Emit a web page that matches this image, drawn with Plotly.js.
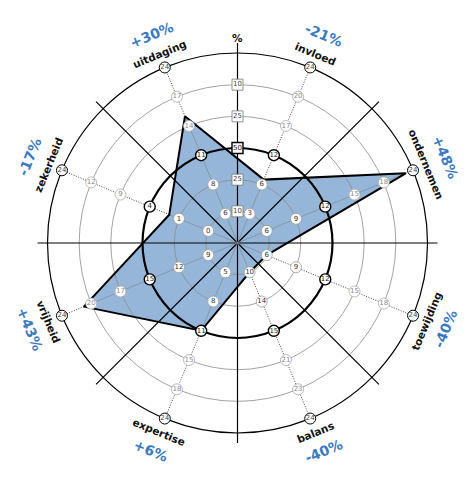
<!DOCTYPE html>
<html><head><meta charset="utf-8">
<script src="https://cdn.plot.ly/plotly-3.0.1.min.js"></script>
<style>html,body{margin:0;padding:0;background:#fff}</style>
</head><body><div id="chart" style="width:474px;height:489px"></div>
<script>
// ---- data ----
const categories = ['uitdaging','invloed','ondernemen','toewijding','balans','expertise','vrijheid','zekerheid'];
const scores = [15, 7, 22.5, 6, 10, 11, 21, 2];
const changes = ['+30%','-21%','+48%','-40%','-40%','+6%','+43%','-17%'];
const scaleUitdaging  = [6, 8, 11, 14, 17, 24];
const scaleInvloed    = [3, 6, 12, 17, 20, 24];
const scaleOndernemen = [6, 9, 12, 15, 18, 24];
const scaleToewijding = [6, 9, 12, 15, 18, 24];
const scaleBalans     = [10, 14, 15, 21, 23, 24];
const scaleExpertise  = [5, 8, 11, 15, 18, 24];
const scaleVrijheid   = [9, 12, 15, 17, 20, 24];
const scaleZekerheid  = [0, 1, 4, 9, 12, 24];
const percentLabels = ['10', '25', '50', '25', '10'];
const percentTitle = '%';

const scales = [scaleUitdaging, scaleInvloed, scaleOndernemen, scaleToewijding,
                scaleBalans, scaleExpertise, scaleVrijheid, scaleZekerheid];

// per-axis piecewise scale: value -> ring position (0..6)
function toRing(v, sc) {
  for (let k = 0; k < sc.length; k++) {
    const lo = k === 0 ? 0 : sc[k - 1], hi = sc[k];
    if (hi > lo && v <= hi) return k + (v - lo) / (hi - lo);
  }
  return sc.length;
}
const rings = scores.map((v, i) => toRing(v, scales[i]));

// ---- layout geometry ----
const W = 474, H = 489, CX = 237.5, CY = 243, R6 = 190;
function dom(R) {
  return { x: [(CX - R) / W, (CX + R) / W], y: [(H - CY - R) / H, (H - CY + R) / H] };
}
const hiddenRadial = (rng) => ({ range: rng, showgrid: false, showline: false, showticklabels: false, ticks: '' });
const catAngular = { type: 'category', categoryorder: 'array', categoryarray: categories,
  rotation: 112.5, direction: 'clockwise', showgrid: false, showline: false, showticklabels: false, ticks: '' };
const linAngular = { type: 'linear', rotation: 0, direction: 'counterclockwise',
  showgrid: false, showline: false, showticklabels: false, ticks: '' };
const transparent = 'rgba(0,0,0,0)';

const traces = [];
const closedR = rings.concat([rings[0]]);
const closedT = categories.concat([categories[0]]);

// A: fill
traces.push({ type: 'scatterpolar', subplot: 'polar', r: closedR, theta: closedT, mode: 'lines',
  fill: 'toself', fillcolor: '#95b6d8', line: { width: 0, color: transparent }, hoverinfo: 'skip' });
// B: grid rings (dummy trace)
traces.push({ type: 'scatterpolar', subplot: 'polar2', r: [0], theta: [0], mode: 'lines', hoverinfo: 'skip' });
// C: 45-degree black lines
traces.push({ type: 'scatterpolar', subplot: 'polar3', r: [0], theta: [0], mode: 'lines', hoverinfo: 'skip' });
// D: thick middle ring
traces.push({ type: 'scatterpolar', subplot: 'polar4', r: [0], theta: [0], mode: 'lines', hoverinfo: 'skip' });

// E: spokes, outline, markers
const sR = [], sT = [], dR = [], dT = [];
categories.forEach((c, i) => {
  sR.push(0, rings[i], null); sT.push(c, c, null);
  dR.push(rings[i], 6, null); dT.push(c, c, null);
});
traces.push({ type: 'scatterpolar', subplot: 'polar5', r: sR, theta: sT, mode: 'lines',
  line: { color: '#7d8a96', width: 0.7 }, hoverinfo: 'skip' });
traces.push({ type: 'scatterpolar', subplot: 'polar5', r: dR, theta: dT, mode: 'lines',
  line: { color: '#444', width: 1, dash: '1px,1.5px' }, hoverinfo: 'skip' });
traces.push({ type: 'scatterpolar', subplot: 'polar5', r: closedR, theta: closedT, mode: 'lines',
  line: { color: '#000', width: 2 }, hoverinfo: 'skip' });

// marker styles by ring group
const groups = [
  { rings: [1, 2], line: '#9a9a9a', lw: 0.8, tc: '#333' },
  { rings: [3],    line: '#000',    lw: 1.4, tc: '#222' },
  { rings: [4, 5], line: '#aaaaaa', lw: 0.8, tc: '#8a8a8a' },
  { rings: [6],    line: '#000',    lw: 1.0, tc: '#444' }
];
groups.forEach(g => {
  const r = [], t = [], txt = [];
  categories.forEach((c, i) => {
    g.rings.forEach(ring => { r.push(ring); t.push(c); txt.push(String(scales[i][ring - 1])); });
  });
  traces.push({ type: 'scatterpolar', subplot: 'polar5', r: r, theta: t, mode: 'markers+text',
    text: txt, textposition: 'middle center', cliponaxis: false,
    textfont: { family: 'DejaVu Sans', size: 7, color: g.tc },
    marker: { symbol: 'circle', size: 11, color: '#ffffff', opacity: 1, line: { color: g.line, width: g.lw } },
    hoverinfo: 'skip' });
});

// F: percent axis squares
const pGroups = [
  { idx: [0, 1, 3, 4], line: '#777', lw: 0.8, tc: '#444' },
  { idx: [2], line: '#000', lw: 1.4, tc: '#222' }
];
pGroups.forEach(g => {
  traces.push({ type: 'scatterpolar', subplot: 'polar6', r: g.idx.map(k => k + 1), theta: g.idx.map(() => 90),
    mode: 'markers+text', text: g.idx.map(k => percentLabels[k]), textposition: 'middle center', cliponaxis: false,
    textfont: { family: 'DejaVu Sans', size: 7, color: g.tc },
    marker: { symbol: 'square', size: 11, color: '#ffffff', line: { color: g.line, width: g.lw } },
    hoverinfo: 'skip' });
});

// ---- annotations ----
const annotations = [];
function paperPos(r, deg) {
  const a = deg * Math.PI / 180;
  return { x: (CX + r * Math.cos(a)) / W, y: (H - (CY - r * Math.sin(a))) / H };
}
categories.forEach((c, i) => {
  const deg = 112.5 - 45 * i;
  const rot = Math.sin(deg * Math.PI / 180) > 0 ? 90 - deg : -90 - deg;
  const p1 = paperPos(205, deg), p2 = paperPos(225, deg);
  annotations.push({ text: c, x: p1.x, y: p1.y, xref: 'paper', yref: 'paper', showarrow: false,
    xanchor: 'center', yanchor: 'middle', textangle: rot,
    font: { family: 'DejaVu Sans', size: 10.5, color: '#111', weight: 'bold' } });
  annotations.push({ text: changes[i], x: p2.x, y: p2.y, xref: 'paper', yref: 'paper', showarrow: false,
    xanchor: 'center', yanchor: 'middle', textangle: rot,
    font: { family: 'DejaVu Sans', size: 14, color: '#3a7abf', weight: 'bold' } });
});
const pt = paperPos(205, 90);
annotations.push({ text: percentTitle, x: pt.x, y: pt.y, xref: 'paper', yref: 'paper', showarrow: false,
  xanchor: 'center', yanchor: 'middle', font: { family: 'DejaVu Sans', size: 10.5, color: '#111', weight: 'bold' } });

const layout = {
  width: W, height: H, margin: { l: 0, r: 0, t: 0, b: 0 }, showlegend: false,
  paper_bgcolor: '#fff', plot_bgcolor: '#fff',
  polar:  { domain: dom(R6), bgcolor: transparent, radialaxis: hiddenRadial([0, 6]), angularaxis: catAngular },
  polar2: { domain: dom(R6), bgcolor: transparent,
    radialaxis: { range: [0, 6], tickvals: [1, 2, 4, 5], showgrid: true, gridcolor: '#8a8a8a', gridwidth: 0.8,
      showline: false, showticklabels: false, ticks: '' },
    angularaxis: Object.assign({}, linAngular, { showline: true, linecolor: '#000', linewidth: 1.2 }) },
  polar3: { domain: dom(200), bgcolor: transparent, radialaxis: hiddenRadial([0, 1]),
    angularaxis: Object.assign({}, linAngular, { tickmode: 'linear', tick0: 0, dtick: 45,
      showgrid: true, gridcolor: '#000', gridwidth: 1.2 }) },
  polar4: { domain: dom(R6 / 2), bgcolor: transparent, radialaxis: hiddenRadial([0, 1]),
    angularaxis: Object.assign({}, linAngular, { showline: true, linecolor: '#000', linewidth: 2.2 }) },
  polar5: { domain: dom(R6), bgcolor: transparent, radialaxis: hiddenRadial([0, 6]), angularaxis: catAngular },
  polar6: { domain: dom(R6), bgcolor: transparent, radialaxis: hiddenRadial([0, 6]), angularaxis: linAngular },
  annotations: annotations
};

Plotly.newPlot('chart', traces, layout, { staticPlot: true, displayModeBar: false });
</script>
</body></html>
